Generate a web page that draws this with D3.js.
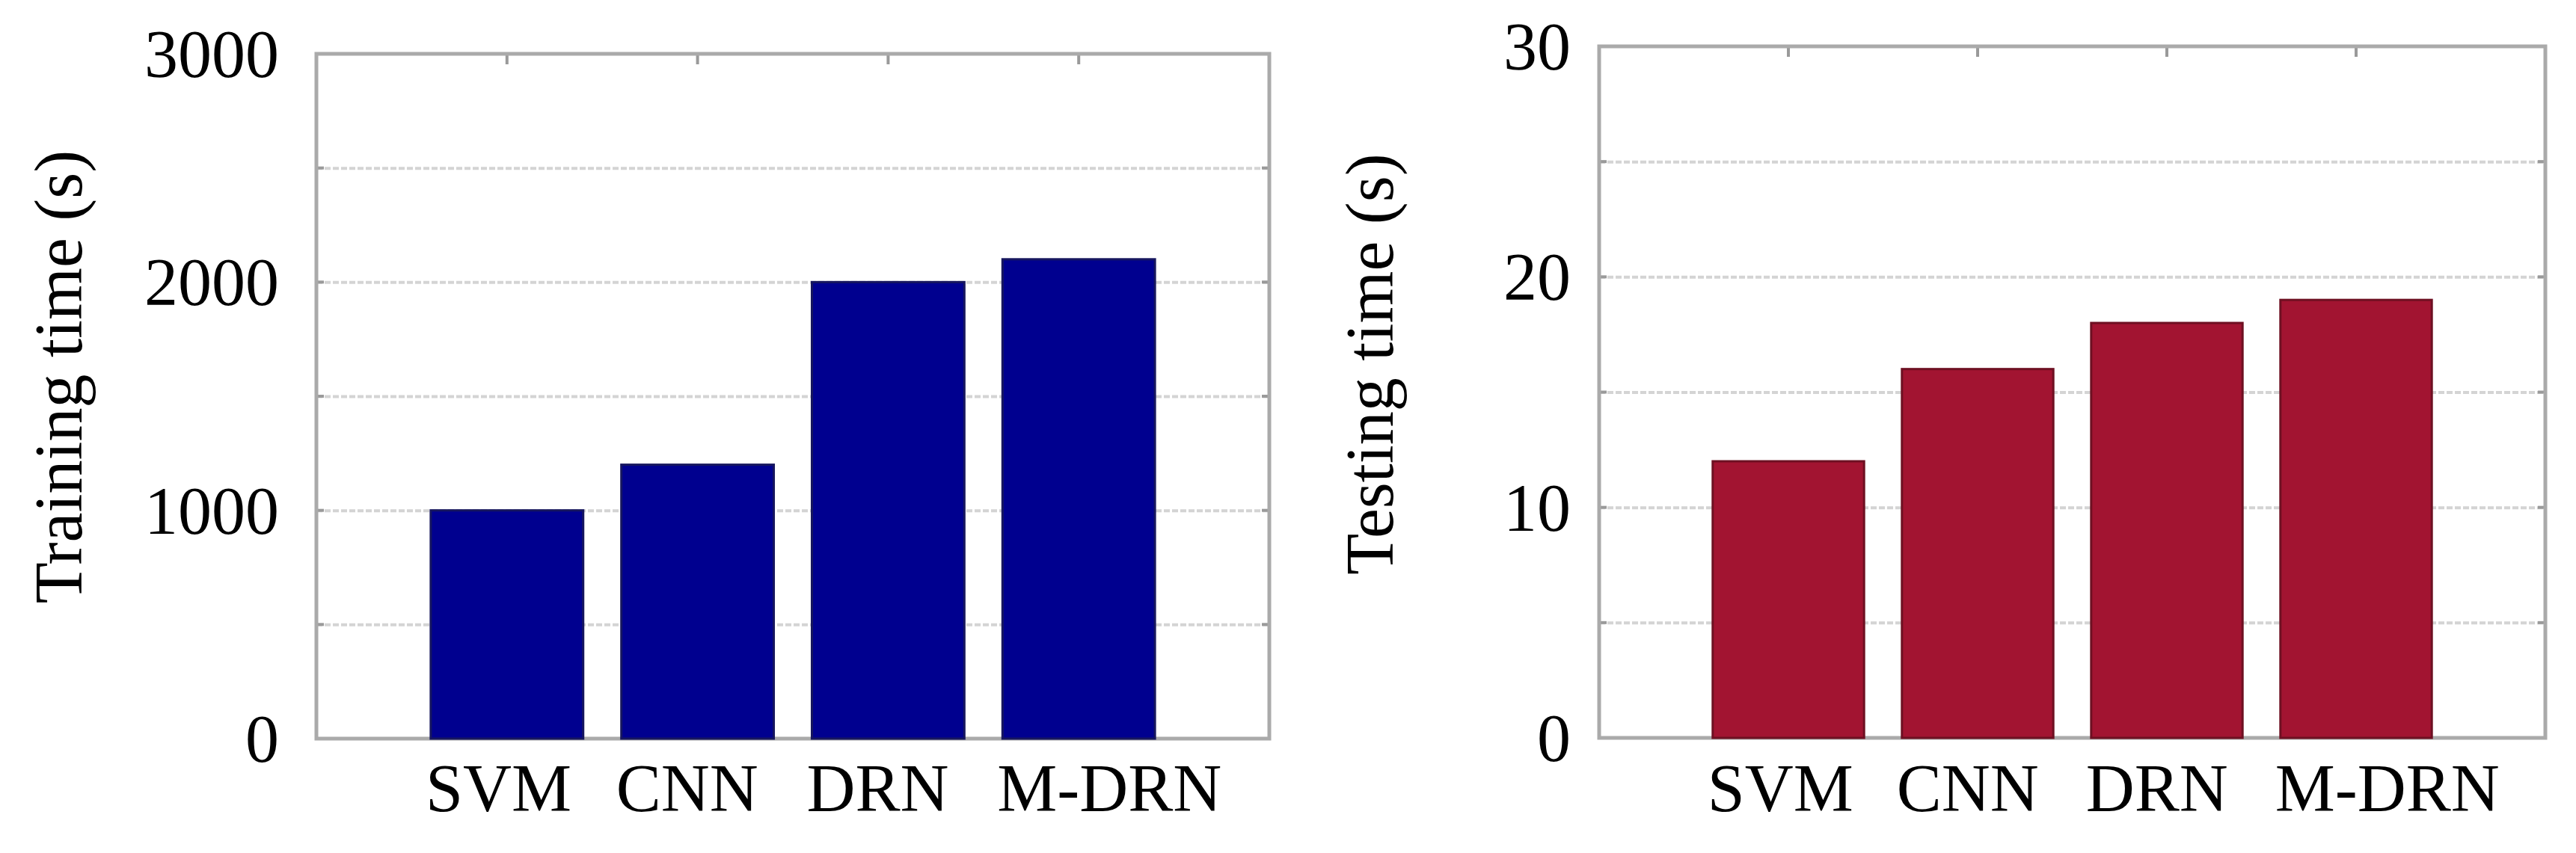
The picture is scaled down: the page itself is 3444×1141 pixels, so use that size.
<!DOCTYPE html>
<html lang="en">
<head>
  <meta charset="UTF-8">
  <title>Training and testing time</title>
  <style>
    body { margin: 0; background: #ffffff; }
    svg { display: block; }
    text { font-family: 'Liberation Serif', 'Times New Roman', serif; fill: #000; }
  </style>
  <script src="https://d3js.org/d3.v7.min.js"></script>
</head>
<body>
  <div id="chart"></div>
  <script>
    const categories    = ['SVM', 'CNN', 'DRN', 'M-DRN'];
    const trainingTime  = [1000, 1200, 2000, 2100];
    const testingTime   = [12, 16, 18, 19];
    const trainingTicks = [0, 1000, 2000, 3000];
    const trainingGrid  = [500, 1000, 1500, 2000, 2500];
    const testingTicks  = [0, 10, 20, 30];
    const testingGrid   = [5, 10, 15, 20, 25];

    const W = 3444, H = 1141, FONT = 90;

    const svg = d3.select('#chart').append('svg')
      .attr('width', W).attr('height', H);

    function panel(o){
      const g = svg.append('g');
      const x = d3.scaleLinear().domain([0, categories.length + 1]).range([o.left, o.right]);
      const y = d3.scaleLinear().domain([0, o.max]).range([o.bottom, o.top]);
      const bw = x(0.8) - x(0);

      // dotted grid
      g.append('g')
        .attr('transform', `translate(${o.left},0)`)
        .call(d3.axisLeft(y).tickValues(o.grid).tickSize(-(o.right - o.left)).tickFormat(''))
        .call(a => a.select('.domain').remove())
        .call(a => a.selectAll('line')
          .attr('stroke', '#d4d4d4').attr('stroke-width', 4).attr('stroke-dasharray', '8,3'));

      // short ticks on both side axes
      [[o.left, 10], [o.right, -10]].forEach(([px, len]) => {
        g.append('g').selectAll('line').data(o.grid).join('line')
          .attr('x1', px).attr('x2', px + len)
          .attr('y1', d => y(d)).attr('y2', d => y(d))
          .attr('stroke', '#9a9a9a').attr('stroke-width', 4);
      });

      // ticks at categories on top axis
      g.append('g').selectAll('line').data(categories).join('line')
        .attr('x1', (d, i) => x(i + 1)).attr('x2', (d, i) => x(i + 1))
        .attr('y1', o.top).attr('y2', o.top + 14)
        .attr('stroke', '#9a9a9a').attr('stroke-width', 4);

      // frame
      g.append('rect')
        .attr('x', o.left).attr('y', o.top)
        .attr('width', o.right - o.left).attr('height', o.bottom - o.top)
        .attr('fill', 'none').attr('stroke', '#aaaaaa').attr('stroke-width', 5);

      // bars
      g.append('g').selectAll('rect').data(o.values).join('rect')
        .attr('x', (d, i) => x(i + 1) - bw / 2)
        .attr('y', d => y(d))
        .attr('width', bw)
        .attr('height', d => y(0) - y(d))
        .attr('fill', o.fill)
        .attr('stroke', o.stroke).attr('stroke-width', 3);

      // y tick labels
      g.append('g')
        .attr('transform', `translate(${o.left},0)`)
        .call(d3.axisLeft(y).tickValues(o.ticks).tickSize(0).tickPadding(o.pad).tickFormat(d3.format('d')))
        .call(a => a.select('.domain').remove())
        .call(a => a.selectAll('text')
          .attr('font-family', "'Liberation Serif', serif")
          .attr('font-size', FONT).attr('fill', '#000').attr('dy', '0.34em'));

      // category labels
      g.append('g').selectAll('text').data(categories).join('text')
        .attr('x', (d, i) => x(i + 1) - bw / 2 - 7)
        .attr('y', 1085)
        .attr('text-anchor', 'start')
        .attr('font-size', FONT)
        .text(d => d);

      // axis title
      g.append('text')
        .attr('transform', `translate(${o.titleX},${o.titleY}) rotate(-90)`)
        .attr('text-anchor', 'middle')
        .attr('font-size', FONT)
        .text(o.title);
    }

    panel({ left: 423, right: 1697, top: 72, bottom: 988, max: 3000,
            values: trainingTime, ticks: trainingTicks, grid: trainingGrid, pad: 50,
            fill: '#00008f', stroke: '#16165e',
            title: 'Training time (s)', titleX: 109, titleY: 504 });

    panel({ left: 2138, right: 3403, top: 62, bottom: 987, max: 30,
            values: testingTime, ticks: testingTicks, grid: testingGrid, pad: 38,
            fill: '#a21431', stroke: '#6e1022',
            title: 'Testing time (s)', titleX: 1862, titleY: 487 });
  </script>
</body>
</html>
